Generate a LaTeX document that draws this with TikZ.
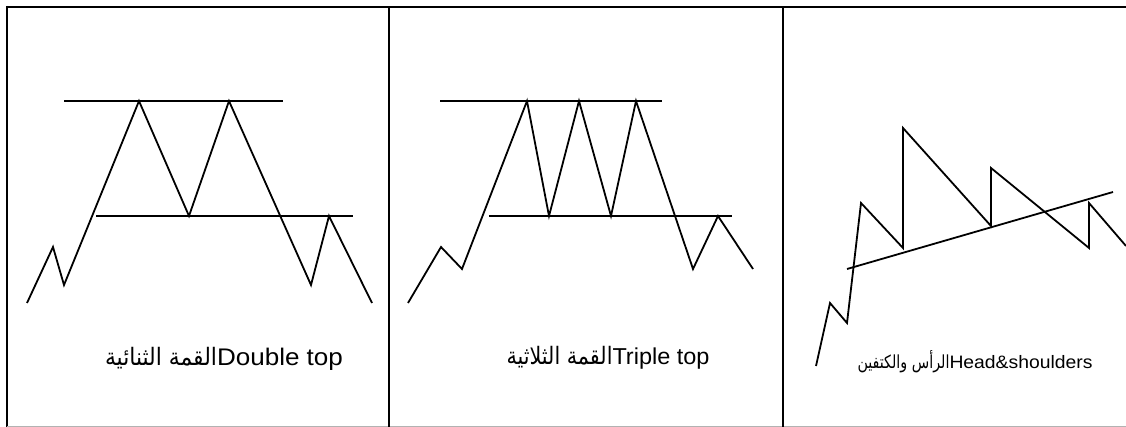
\documentclass[tikz,border=0pt]{standalone}
\usepackage{fontspec}
\usepackage{graphicx}
\setmainfont{Liberation Sans}
\newfontfamily\arabicfont[Script=Arabic]{DejaVu Sans}
\TeXXeTstate=1
\tikzset{
  chart/.style={line width=1.8pt, line join=miter, black},
  frame/.style={line width=2pt, black},
  lbl/.style={inner sep=0pt, anchor=center}
}
\begin{document}
\begin{tikzpicture}[x=1pt,y=-1pt]
\useasboundingbox (0,0) rectangle (1126,427);
% frame
\draw[frame] (6,7) -- (1126,7);
\draw[frame] (7,6) -- (7,427);
\draw[line width=1pt, black!30] (7,426) -- (1126,426);
\draw[frame] (389,7) -- (389,427);
\draw[frame] (783,7) -- (783,427);

% Panel 1: double top
\draw[chart] (64,101) -- (283,101);
\draw[chart] (96,216) -- (353,216);
\draw[chart] (27,303) -- (53,247) -- (64,285) -- (139,101) -- (189,216) -- (229,101) -- (311,285) -- (329,216) -- (372,303);
\node[lbl] (l1) at (224,359) {\hbox{\resizebox{112pt}{\height}{\fontsize{24}{28}\arabicfont\beginR القمة الثنائية\endR}\resizebox{126pt}{\height}{\fontsize{24}{28}\selectfont Double top}}};

% Panel 2: triple top
\draw[chart] (440,101) -- (662,101);
\draw[chart] (489,216) -- (732,216);
\draw[chart] (408,303) -- (441,247) -- (462,269) -- (527,101) -- (549,216) -- (579,101) -- (611,216) -- (636,101) -- (693,269) -- (718,216) -- (753,269);
\node[lbl] (l2) at (608,358) {\hbox{\resizebox{106pt}{\height}{\fontsize{24}{28}\arabicfont\beginR القمة الثلاثية\endR}\resizebox{97pt}{\height}{\fontsize{23}{27}\selectfont Triple top}}};

% Panel 3: head and shoulders
\draw[chart] (847,269) -- (1113,192);
\draw[chart] (816,366) -- (830,303) -- (847,323) -- (861,203) -- (903,248) -- (903,128) -- (991,226) -- (991,168) -- (1089,248) -- (1089,203) -- (1126,246);
\node[lbl] (l3) at (975,362) {\hbox{\resizebox{92pt}{\height}{\fontsize{18}{22}\arabicfont\beginR الرأس والكتفين\endR}\resizebox{143pt}{\height}{\fontsize{18}{22}\selectfont Head\&shoulders}}};
\end{tikzpicture}
\end{document}
